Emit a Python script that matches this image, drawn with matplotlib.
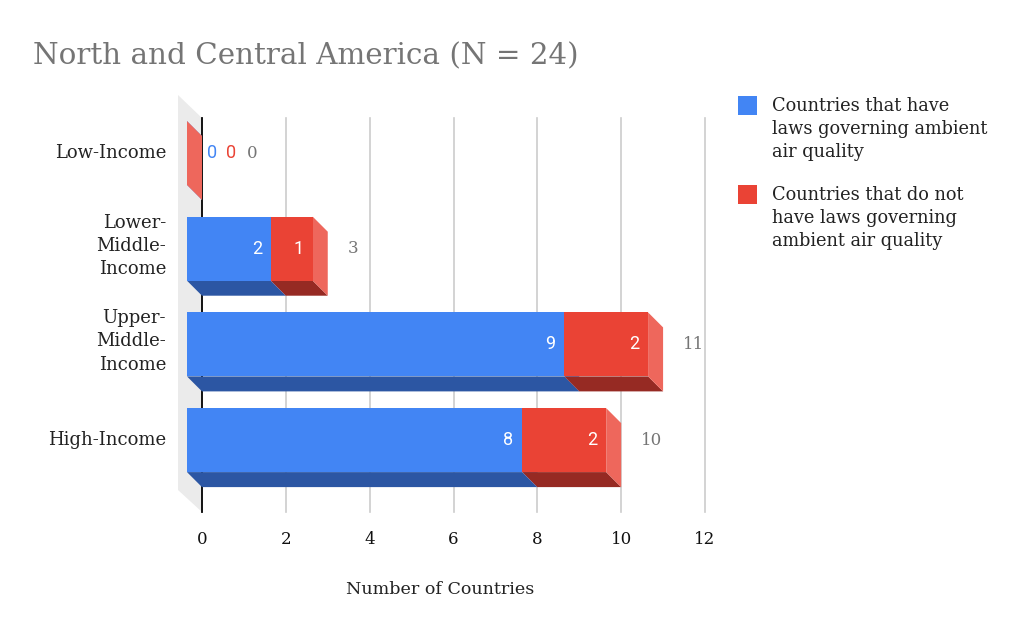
import matplotlib
matplotlib.use('Agg')
import matplotlib.pyplot as plt
from matplotlib.patches import Polygon, Rectangle

# data
categories = ['Low-Income', 'Lower-\nMiddle-\nIncome', 'Upper-\nMiddle-\nIncome', 'High-Income']
have_laws = [0, 2, 9, 8]
no_laws = [0, 1, 2, 2]
series_names = ['Countries that have\nlaws governing ambient\nair quality',
                'Countries that do not\nhave laws governing\nambient air quality']
xticks = [0, 2, 4, 6, 8, 10, 12]

serif = 'DejaVu Serif'
sans = 'Roboto'

blue = '#4285F4'
red = '#EA4335'
face_cols = {
    'blue': (blue, '#2C56A3', '#6B9EF6'),
    'red': (red, '#962A23', '#EE675C'),
}

fig = plt.figure(figsize=(10.24, 6.33), dpi=100)
W, H = 1024, 633

# axes placed in pixels
ax_l, ax_r, ax_t, ax_b = 170, 720, 90, 520
ax = fig.add_axes([ax_l / W, 1 - ax_b / H, (ax_r - ax_l) / W, (ax_b - ax_t) / H])

px_x = (705 - 202) / 12.0    # pixels per country
px_y = 95.7                  # pixels per category step
x0_px, y0_px = 202, 153
ax.set_xlim((ax_l - x0_px) / px_x, (ax_r - x0_px) / px_x)
ax.set_ylim((ax_b - y0_px) / px_y, (ax_t - y0_px) / px_y)

dx = 15 / px_x      # depth in x
dy = 15 / px_y      # depth in y
half = 32 / px_y    # half height of front face

def px2d(x, y):
    return (x - x0_px) / px_x, (y - y0_px) / px_y

# left wall
wall = [px2d(178, 95), px2d(202, 118), px2d(202, 512), px2d(178, 490)]
ax.add_patch(Polygon(wall, closed=True, fc='#EBEBEB', ec='none', zorder=0))

# grid
g_top = px2d(0, 118)[1]
g_bot = px2d(0, 512)[1]
for t in xticks[1:]:
    ax.plot([t, t], [g_top, g_bot], color='#CCCCCC', lw=1.2, zorder=1)
ax.plot([0, 0], [g_top, g_bot], color='black', lw=1.3, zorder=1)


def box(x_start, x_end, yc, cols):
    front, bottom, side = cols
    # back face sits on the real value; front face is shifted up-left
    fx0, fx1 = x_start - dx, x_end - dx
    ft, fb = yc - half, yc + half
    bot = [(fx0, fb), (fx1, fb), (fx1 + dx, fb + dy), (fx0 + dx, fb + dy)]
    sid = [(fx1, ft), (fx1 + dx, ft + dy), (fx1 + dx, fb + dy), (fx1, fb)]
    ax.add_patch(Polygon(bot, closed=True, fc=bottom, ec='none', zorder=3))
    ax.add_patch(Polygon(sid, closed=True, fc=side, ec='none', zorder=3))
    if x_end > x_start:
        ax.add_patch(Rectangle((fx0, ft), fx1 - fx0, fb - ft, fc=front, ec='none', zorder=4))


for i, cat in enumerate(categories):
    a, b = have_laws[i], no_laws[i]
    box(0, a, i, face_cols['blue'])
    box(a, a + b, i, face_cols['red'])
    total = a + b
    if total > 0:
        if a > 0:
            ax.text(a - dx - 9 / px_x, i, str(a), color='white', ha='right', va='center',
                    fontsize=13, family=sans, zorder=5)
        if b > 0:
            ax.text(a + b - dx - 9 / px_x, i, str(b), color='white', ha='right', va='center',
                    fontsize=13, family=sans, zorder=5)
        ax.text(total + 20 / px_x, i, str(total), color='#757575', ha='left', va='center',
                fontsize=12, family=serif, zorder=5)
    else:
        ax.text(5 / px_x, i, str(a), color=blue, ha='left', va='center', fontsize=13, family=sans, zorder=5)
        ax.text(24 / px_x, i, str(b), color=red, ha='left', va='center', fontsize=13, family=sans, zorder=5)
        ax.text(45 / px_x, i, str(total), color='#757575', ha='left', va='center', fontsize=12,
                family=serif, zorder=5)
    shift = -3 / px_y if '\n' in cat else 0
    ax.text((166 - x0_px) / px_x, i + shift, cat, ha='right', va='center', multialignment='right',
            fontsize=13, family=serif, color='#222222', linespacing=1.37, clip_on=False)

ax.set_xticks(xticks)
ax.set_xticklabels([str(t) for t in xticks], family=serif, fontsize=12, color='#111111')
ax.tick_params(axis='x', length=0, pad=8)
ax.set_yticks([])
for s in ax.spines.values():
    s.set_visible(False)

fig.text(440 / W, 1 - 589 / H, 'Number of Countries', ha='center', va='center',
         family=serif, fontsize=12.6, color='#222222')

fig.text(33 / W, 1 - 64 / H, 'North and Central America (N = 24)', ha='left', va='baseline',
         family=serif, fontsize=21.2, color='#757575')

# legend
for k, (name, col) in enumerate(zip(series_names, [blue, red])):
    top = 96 + k * 89
    fig.patches.append(Rectangle((738 / W, 1 - (top + 19) / H), 19 / W, 19 / H,
                                 transform=fig.transFigure, fc=col, ec='none'))
    fig.text(772 / W, 1 - (129 + k * 89) / H, name, ha='left', va='center', family=serif,
             fontsize=12.8, color='#222222', linespacing=1.39)

fig.savefig('out.png', dpi=100)
